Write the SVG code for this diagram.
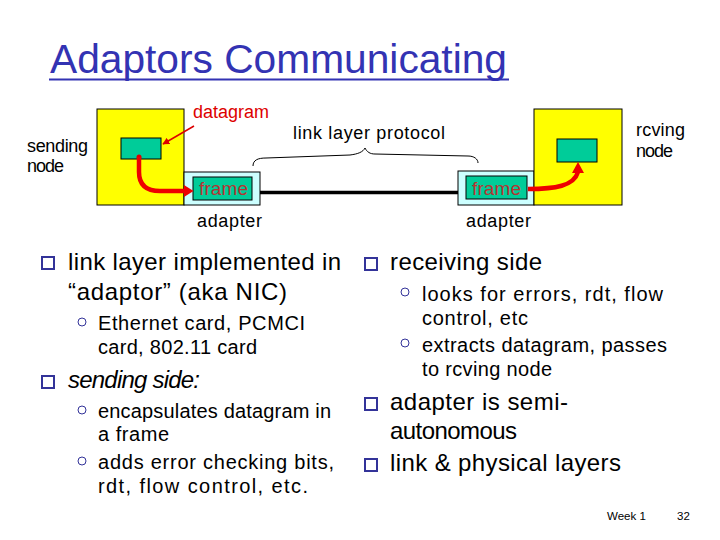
<svg xmlns="http://www.w3.org/2000/svg" width="720" height="540" viewBox="0 0 720 540">
<style>
text{font-family:"Liberation Sans",Arial,sans-serif;fill:#000}
.lbl{font-size:18px}
.main{font-size:24px}
.sub{font-size:20px}
.red{fill:#dd0000}
.frm{fill:#b83232;font-size:19px}
.yel{fill:#ffff00;stroke:#000;stroke-width:1}
.grn{fill:#00cc99;stroke:#000;stroke-width:1}
.cyan{fill:#ccffff;stroke:#000;stroke-width:1}
.sq{fill:#fff;stroke:#333399;stroke-width:2}
.cir{fill:none;stroke:#333399;stroke-width:1}
</style>
<defs>
<marker id="thin" viewBox="0 0 10 10" refX="9" refY="5" markerWidth="7" markerHeight="7" orient="auto" markerUnits="userSpaceOnUse">
<path d="M0,0 L10,5 L0,10 z" fill="#dd0000"/>
</marker>
</defs>
<rect width="720" height="540" fill="#fff"/>

<g id="title">
<text x="50" y="73" font-size="40" style="fill:#3333b3" textLength="457" lengthAdjust="spacingAndGlyphs">Adaptors Communicating</text>
<line x1="49" y1="79.5" x2="509" y2="79.5" stroke="#3333b3" stroke-width="2"/>
</g>

<g id="sending-node">
<rect class="yel" x="97" y="109" width="87" height="96"/>
<rect class="grn" x="121" y="138" width="40" height="21"/>
<text class="lbl" x="27" y="152" textLength="61">sending</text>
<text class="lbl" x="27" y="172" textLength="37">node</text>
</g>

<g id="sending-adapter">
<rect class="cyan" x="184" y="172" width="76" height="33"/>
<rect class="grn" x="193" y="177" width="59" height="23"/>
<text class="frm" x="199" y="195" textLength="49">frame</text>
<text class="lbl" x="197" y="227" font-size="19" textLength="65">adapter</text>
</g>

<g id="receiving-adapter">
<rect class="cyan" x="458" y="171" width="76" height="34"/>
<rect class="grn" x="466" y="176" width="61" height="23"/>
<text class="frm" x="472" y="195" textLength="49">frame</text>
<text class="lbl" x="466" y="227" font-size="19" textLength="65">adapter</text>
</g>

<g id="receiving-node">
<rect class="yel" x="534" y="109" width="88" height="96"/>
<rect class="grn" x="557" y="139" width="40" height="23"/>
<text class="lbl" x="636" y="136" textLength="49">rcving</text>
<text class="lbl" x="636" y="157" textLength="37">node</text>
</g>

<g id="labels">
<text class="lbl red" x="193" y="118" textLength="76">datagram</text>
<text class="lbl" x="293" y="139" font-size="19" textLength="152">link layer protocol</text>
</g>

<g id="connectors">
<line x1="260" y1="192.5" x2="458" y2="192.5" stroke="#000" stroke-width="3.5"/>
<path d="M253,166 C253,160 258,158 266,158 L350,155 C358,154 363,152 365,148 C367,152 370,154 375,154 L468,156 C474,156 478,159 478,163" fill="none" stroke="#000" stroke-width="1"/>
<line x1="194" y1="126" x2="163" y2="144" stroke="#dd0000" stroke-width="1.5" marker-end="url(#thin)"/>
<circle cx="139" cy="157" r="2.5" fill="#dd0000"/>
<path d="M139,157 L139,172 Q139,191 160,191 L185,191" fill="none" stroke="#ee0000" stroke-width="4.5"/>
<polygon points="184,185 193.5,191 184,197" fill="#ee0000"/>
<path d="M528,189 C555,189 574,186 578,172" fill="none" stroke="#ee0000" stroke-width="4.5"/>
<polygon points="572,173 578,162 584,173" fill="#ee0000"/>
</g>

<g id="left-bullets">
<rect class="sq" x="42" y="257" width="12" height="12"/>
<text class="main" x="68" y="270" textLength="273">link layer implemented in</text>
<text class="main" x="68" y="300" textLength="219">“adaptor” (aka NIC)</text>
<circle class="cir" cx="82" cy="322" r="4"/>
<text class="sub" x="98" y="330" textLength="207">Ethernet card, PCMCI</text>
<text class="sub" x="98" y="354" textLength="159">card, 802.11 card</text>
<rect class="sq" x="42" y="376" width="12" height="12"/>
<text class="main" x="68" y="388" font-style="italic" textLength="132">sending side:</text>
<circle class="cir" cx="82" cy="410" r="4"/>
<text class="sub" x="98" y="418" textLength="233">encapsulates datagram in</text>
<text class="sub" x="98" y="441" textLength="71">a frame</text>
<circle class="cir" cx="82" cy="461" r="4"/>
<text class="sub" x="98" y="469" textLength="236">adds error checking bits,</text>
<text class="sub" x="98" y="493" textLength="210">rdt, flow control, etc.</text>
</g>

<g id="right-bullets">
<rect class="sq" x="365" y="258" width="12" height="12"/>
<text class="main" x="390" y="270" textLength="152">receiving side</text>
<circle class="cir" cx="405" cy="292" r="4"/>
<text class="sub" x="422" y="301" textLength="241">looks for errors, rdt, flow</text>
<text class="sub" x="422" y="325" textLength="106">control, etc</text>
<circle class="cir" cx="405" cy="343" r="4"/>
<text class="sub" x="422" y="352" textLength="245">extracts datagram, passes</text>
<text class="sub" x="422" y="376" textLength="130">to rcving node</text>
<rect class="sq" x="365" y="398" width="12" height="12"/>
<text class="main" x="390" y="410" textLength="178">adapter is semi-</text>
<text class="main" x="390" y="439" textLength="127">autonomous</text>
<rect class="sq" x="365" y="459" width="12" height="12"/>
<text class="main" x="390" y="471" textLength="231">link &amp; physical layers</text>
</g>

<g id="footer">
<text x="607" y="520" font-size="11.5">Week 1</text>
<text x="677" y="520" font-size="11.5">32</text>
</g>
</svg>
